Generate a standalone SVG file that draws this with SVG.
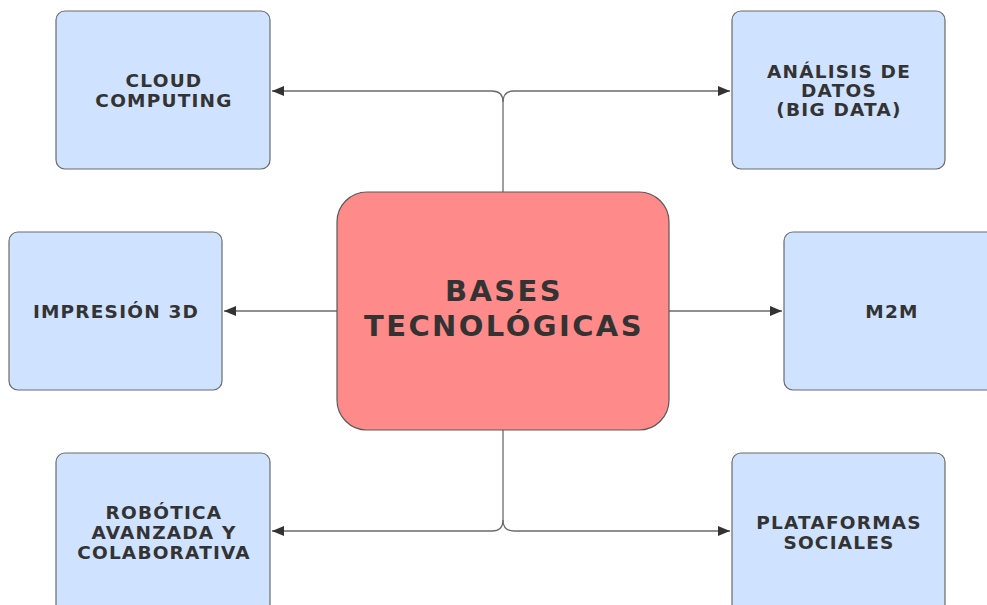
<svg xmlns="http://www.w3.org/2000/svg" width="987" height="605" viewBox="0 0 987 605">
<style>
.node{fill:#cfe2ff;stroke:#6b6b6b;stroke-width:1.2}
.center{fill:#ff8a8a;stroke:#5a5a5a;stroke-width:1.2}
.t{font-family:"DejaVu Sans","Liberation Sans",sans-serif;font-weight:bold;font-size:18.5px;fill:#333;text-anchor:middle;letter-spacing:1.2px}
.tc{font-family:"DejaVu Sans","Liberation Sans",sans-serif;font-weight:bold;font-size:29px;fill:#333;text-anchor:middle;letter-spacing:2.4px}
.c{fill:none;stroke:#6b6b6b;stroke-width:1.3}
</style>
<defs>
<marker id="ah" viewBox="0 0 12 10" refX="12" refY="5" markerWidth="12" markerHeight="10" markerUnits="userSpaceOnUse" orient="auto">
<path d="M0,0 L12,5 L0,10 z" fill="#333"/>
</marker>
</defs>
<rect width="987" height="605" fill="#fff"/>
<g id="connectors">
<path class="c" d="M503,192 V102 Q503,91 492,91 H272" marker-end="url(#ah)"/>
<path class="c" d="M503,102 Q503,91 514,91 H730" marker-end="url(#ah)"/>
<path class="c" d="M337,311 H224" marker-end="url(#ah)"/>
<path class="c" d="M669,311 H782" marker-end="url(#ah)"/>
<path class="c" d="M503,430 V520 Q503,531 492,531 H272" marker-end="url(#ah)"/>
<path class="c" d="M503,520 Q503,531 514,531 H730" marker-end="url(#ah)"/>
</g>
<g id="center">
<rect class="center" x="337" y="192" width="332" height="238" rx="30"/>
<text class="tc" x="504" y="301">BASES</text>
<text class="tc" x="504" y="336">TECNOLÓGICAS</text>
</g>
<g id="cloud">
<rect class="node" x="56" y="11" width="214" height="158" rx="9"/>
<text class="t" x="164" y="87">CLOUD</text>
<text class="t" x="164" y="107">COMPUTING</text>
</g>
<g id="analisis">
<rect class="node" x="732" y="11" width="213" height="158" rx="9"/>
<text class="t" x="839" y="78">ANÁLISIS DE</text>
<text class="t" x="839" y="97">DATOS</text>
<text class="t" x="839" y="116">(BIG DATA)</text>
</g>
<g id="impresion">
<rect class="node" x="9" y="232" width="213" height="158" rx="9"/>
<text class="t" x="116" y="318">IMPRESIÓN 3D</text>
</g>
<g id="m2m">
<rect class="node" x="784" y="232" width="216" height="158" rx="9"/>
<text class="t" x="892" y="318">M2M</text>
</g>
<g id="robotica">
<rect class="node" x="56" y="453" width="214" height="160" rx="9"/>
<text class="t" x="164" y="519">ROBÓTICA</text>
<text class="t" x="164" y="539">AVANZADA Y</text>
<text class="t" x="164" y="559">COLABORATIVA</text>
</g>
<g id="plataformas">
<rect class="node" x="732" y="453" width="213" height="160" rx="9"/>
<text class="t" x="839" y="529">PLATAFORMAS</text>
<text class="t" x="839" y="549">SOCIALES</text>
</g>
</svg>
